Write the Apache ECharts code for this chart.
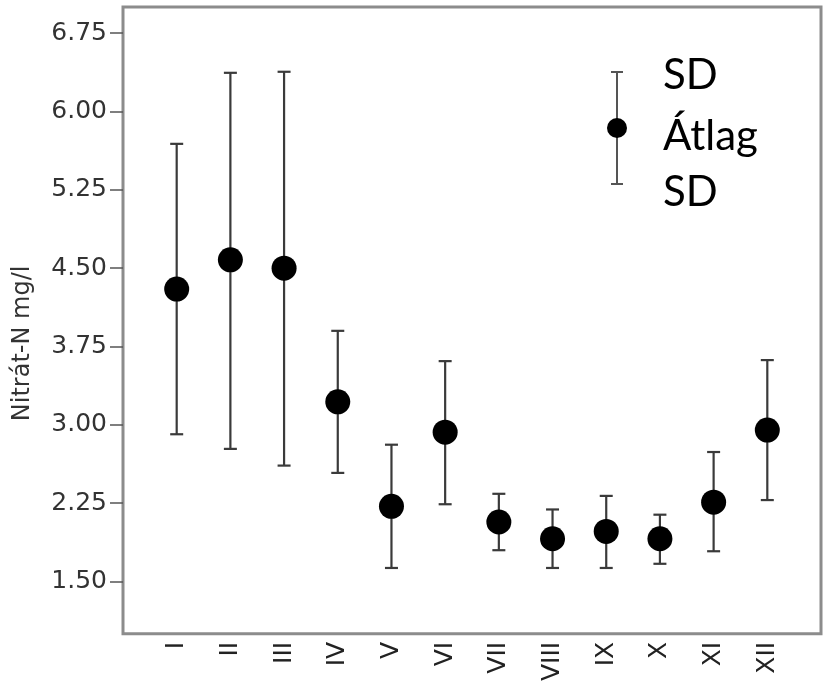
<!DOCTYPE html>
<html>
<head>
<meta charset="utf-8">
<script src="https://cdn.jsdelivr.net/npm/echarts@6/dist/echarts.min.js"></script>
<style>
html,body{margin:0;padding:0;background:#fff;}
#chart{width:827px;height:684px;}
</style>
</head>
<body>
<div id="chart"></div>
<script>
// Months (Roman numerals)
const categories = ['I','II','III','IV','V','VI','VII','VIII','IX','X','XI','XII'];
// Mean nitrate-N (mg/l)
const means = [4.30, 4.58, 4.50, 3.22, 2.22, 2.93, 2.07, 1.91, 1.98, 1.91, 2.26, 2.95];
// Mean + SD (upper whisker)
const sdUpper = [5.69, 6.37, 6.38, 3.90, 2.81, 3.61, 2.34, 2.19, 2.32, 2.14, 2.74, 3.62];
// Mean - SD (lower whisker)
const sdLower = [2.91, 2.77, 2.61, 2.54, 1.63, 2.24, 1.80, 1.63, 1.63, 1.67, 1.79, 2.28];
// Y tick labels
const yTicks = [1.50, 2.25, 3.00, 3.75, 4.50, 5.25, 6.00, 6.75];
const xPositions = categories.map((c, i) => i + 1);

const chart = echarts.init(document.getElementById('chart'));

const meanData = means.map((m, i) => [xPositions[i], m]);
const barData = means.map((m, i) => [xPositions[i], sdLower[i], sdUpper[i]]);

const axisFont = 'DejaVu Sans';

chart.setOption({
  animation: false,
  backgroundColor: '#ffffff',
  grid: {
    left: 123, right: 6, top: 7, bottom: 49,
    show: true, borderColor: '#8c8c8c', borderWidth: 3, backgroundColor: 'transparent'
  },
  xAxis: {
    type: 'value', min: 0, max: 13,
    axisLine: { show: false },
    axisTick: { show: false },
    splitLine: { show: false },
    axisLabel: {
      customValues: xPositions,
      rotate: 90,
      margin: 8,
      fontFamily: axisFont, fontSize: 25, color: '#222',
      formatter: v => categories[Math.round(v) - 1] || ''
    }
  },
  yAxis: {
    type: 'value', min: 1.0, max: 7.0,
    name: 'Nitrát-N mg/l',
    nameLocation: 'middle',
    nameGap: 88,
    nameTextStyle: { fontFamily: axisFont, fontSize: 24, color: '#333', padding: [0, 46, 0, 0] },
    axisLine: { show: false },
    splitLine: { show: false },
    axisTick: { show: true, customValues: yTicks, length: 13, lineStyle: { color: '#555', width: 1.5 } },
    axisLabel: {
      customValues: yTicks,
      margin: 16,
      fontFamily: axisFont, fontSize: 25, color: '#333',
      formatter: v => v.toFixed(2)
    }
  },
  series: [
    {
      type: 'custom',
      data: barData,
      encode: { x: 0, y: [1, 2] },
      z: 2,
      renderItem: function (params, api) {
        const x = api.value(0);
        const lo = api.coord([x, api.value(1)]);
        const hi = api.coord([x, api.value(2)]);
        const hw = 6.5;
        const style = { stroke: '#3a3a3a', lineWidth: 2.2 };
        return {
          type: 'group',
          children: [
            { type: 'line', shape: { x1: lo[0], y1: lo[1], x2: hi[0], y2: hi[1] }, style: style },
            { type: 'line', shape: { x1: hi[0] - hw, y1: hi[1], x2: hi[0] + hw, y2: hi[1] }, style: style },
            { type: 'line', shape: { x1: lo[0] - hw, y1: lo[1], x2: lo[0] + hw, y2: lo[1] }, style: style }
          ]
        };
      }
    },
    {
      type: 'scatter',
      data: meanData,
      symbol: 'circle',
      symbolSize: 25,
      z: 3,
      itemStyle: { color: '#000', opacity: 1 }
    }
  ],
  graphic: [
    { type: 'line', shape: { x1: 617, y1: 72, x2: 617, y2: 184 }, style: { stroke: '#555', lineWidth: 2 } },
    { type: 'line', shape: { x1: 611, y1: 72, x2: 623, y2: 72 }, style: { stroke: '#555', lineWidth: 2 } },
    { type: 'line', shape: { x1: 611, y1: 184, x2: 623, y2: 184 }, style: { stroke: '#555', lineWidth: 2 } },
    { type: 'circle', shape: { cx: 617, cy: 128, r: 10 }, style: { fill: '#000' } },
    { type: 'text', left: 663, top: 54, style: { text: 'SD', font: '42px Lato', fill: '#000' } },
    { type: 'text', left: 663, top: 115, style: { text: 'Átlag', font: '42px Lato', fill: '#000' } },
    { type: 'text', left: 663, top: 171, style: { text: 'SD', font: '42px Lato', fill: '#000' } }
  ]
});
</script>
</body>
</html>
